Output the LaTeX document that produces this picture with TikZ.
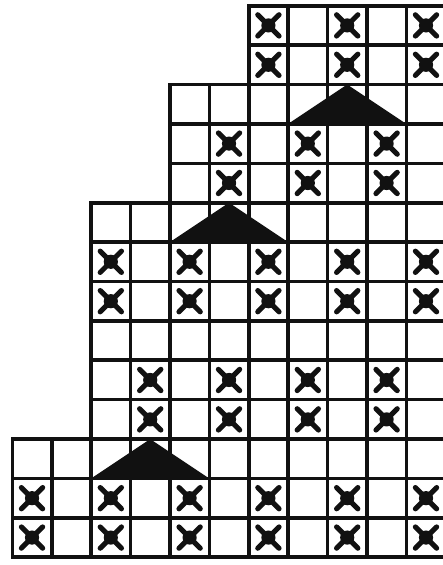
\documentclass[tikz,border=0pt]{standalone}
\usepackage{tikz}
\definecolor{inkc}{HTML}{111111}
\tikzset{
  cellbox/.style={draw=inkc,line width=2.6pt},
  xarm/.style={draw=inkc,line width=3.7pt,line cap=round},
  decr/.style={fill=inkc}
}
% one row of empty cells: start column, row (from top)
\newcommand\chartrow[2]{%
  \foreach \c in {#1,...,10}{\draw[cellbox] (\c,13-#2) rectangle (\c+1,14-#2);}}
% cross stitch in column #1, row #2
\newcommand\crossmark[2]{%
  \draw[xarm] (#1+0.23,13.23-#2)--(#1+0.77,13.77-#2);
  \draw[xarm] (#1+0.23,13.77-#2)--(#1+0.77,13.23-#2);
  \fill[inkc] (#1+0.5,13.5-#2) circle (0.18);}
% decrease triangle over three cells, left column #1, row #2
\newcommand\decmark[2]{%
  \fill[decr] (#1,13-#2)--(#1+1.5,14-#2)--(#1+3,13-#2)--cycle;}

\begin{document}
\begin{tikzpicture}[x=1cm,y=1cm]
\useasboundingbox (-0.313,-0.196) rectangle (10.909,14.145);
% grid
\foreach \r in {0,1}{\chartrow{6}{\r}}
\foreach \r in {2,3,4}{\chartrow{4}{\r}}
\foreach \r in {5,...,10}{\chartrow{2}{\r}}
\foreach \r in {11,12,13}{\chartrow{0}{\r}}
% decreases
\decmark{7}{2}
\decmark{4}{5}
\decmark{2}{11}
% crosses
\foreach \r in {0,1}{\foreach \c in {6,8,10}{\crossmark{\c}{\r}}}
\foreach \r in {3,4}{\foreach \c in {5,7,9}{\crossmark{\c}{\r}}}
\foreach \r in {6,7}{\foreach \c in {2,4,...,10}{\crossmark{\c}{\r}}}
\foreach \r in {9,10}{\foreach \c in {3,5,7,9}{\crossmark{\c}{\r}}}
\foreach \r in {12,13}{\foreach \c in {0,2,...,10}{\crossmark{\c}{\r}}}
\end{tikzpicture}
\end{document}
